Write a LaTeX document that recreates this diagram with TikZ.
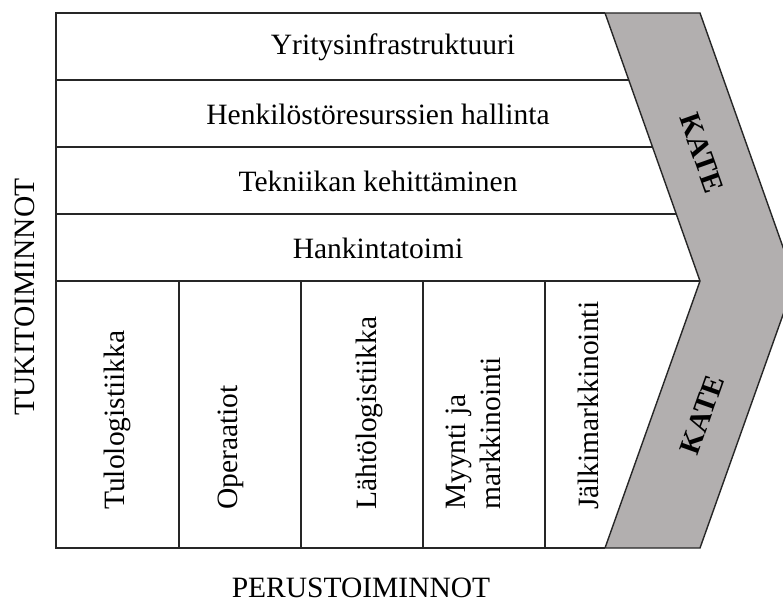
\documentclass[tikz,border=0pt]{standalone}
\usepackage{fontspec}
\setmainfont{Liberation Serif}
\usetikzlibrary{calc}
\definecolor{margingray}{RGB}{178,175,175}
\begin{document}
\begin{tikzpicture}[x=1pt,y=-1pt,
  frame/.style={line width=1.4pt, draw=black!85},
  lbl/.style={font=\fontsize{29.5}{35}\selectfont, inner sep=0pt},
  collbl/.style={lbl, rotate=90, anchor=west},
  kate/.style={lbl, font=\fontsize{29.5}{35}\selectfont\bfseries}]
\useasboundingbox (0,0) rectangle (783,604);

% corners of the frame and of the margin chevron
\coordinate (tl) at (56,13);
\coordinate (bl) at (56,548);
\coordinate (ctl) at (605,13);
\coordinate (ctr) at (700,13);
\coordinate (tip) at (795,281);
\coordinate (cbr) at (700,548);
\coordinate (cbl) at (605,548);
\coordinate (notch) at (700,281);

% margin chevron
\filldraw[frame, fill=margingray] (ctl) -- (ctr) -- (tip) -- (cbr) -- (cbl) -- (notch) -- cycle;

% outer frame
\draw[frame] (ctl) -- (tl) -- (bl) -- (cbl);

% support activity rows
\draw[frame] (56,80) -- ($(ctl)!0.25!(notch)$);
\draw[frame] (56,147) -- ($(ctl)!0.5!(notch)$);
\draw[frame] (56,214) -- ($(ctl)!0.75!(notch)$);
\draw[frame] (56,281) -- (notch);

% primary activity columns
\foreach \x in {179,301,423,545}
  \draw[frame] (\x,281) -- (\x,548);

% support activities
\node[lbl] (yritys) at (393,47) {Yritysinfrastruktuuri};
\node[lbl] (henkilo) at (378,114) {Henkilöstöresurssien hallinta};
\node[lbl] (tekniikka) at (378,181) {Tekniikan kehittäminen};
\node[lbl] (hankinta) at (378,248) {Hankintatoimi};

% primary activities
\node[collbl] (tulo) at (117,510) {Tulologistiikka};
\node[collbl] (operaatiot) at (231,510) {Operaatiot};
\node[collbl] (lahto) at (369,510) {Lähtölogistiikka};
\node[collbl, align=left] (myynti) at (473,510) {Myynti ja\\markkinointi};
\node[collbl] (jalki) at (588,510) {Jälkimarkkinointi};

% axis captions
\node[lbl, rotate=90] (tuki) at (25,297) {TUKITOIMINNOT};
\node[lbl] (perus) at (361,588) {PERUSTOIMINNOT};

% margin labels
\node[kate, rotate=-70.5] (kate1) at (702,153) {KATE};
\node[kate, rotate=70.5] (kate2) at (702,415) {KATE};
\end{tikzpicture}
\end{document}
